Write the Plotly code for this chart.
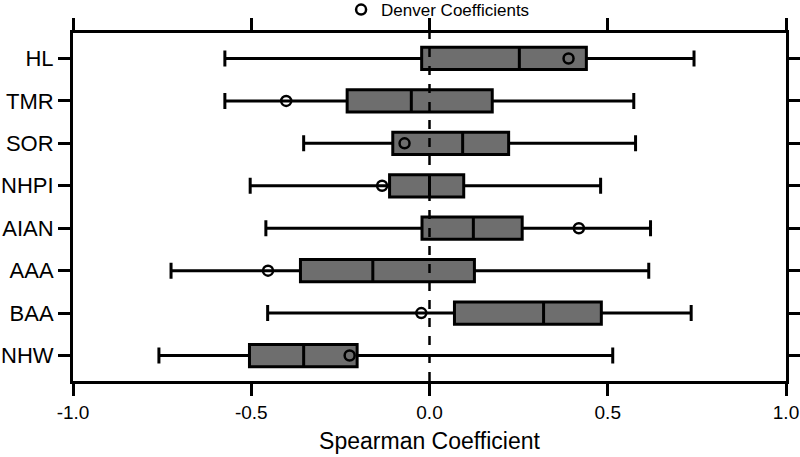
import plotly.graph_objects as go

categories = ["HL", "TMR", "SOR", "NHPI", "AIAN", "AAA", "BAA", "NHW"]
lower_whisker = [-0.574, -0.574, -0.353, -0.503, -0.459, -0.725, -0.454, -0.759]
q1_values = [-0.022, -0.231, -0.103, -0.112, -0.021, -0.362, 0.070, -0.505]
median_values = [0.252, -0.051, 0.093, 0.000, 0.123, -0.159, 0.320, -0.353]
q3_values = [0.440, 0.176, 0.222, 0.096, 0.260, 0.126, 0.482, -0.203]
upper_whisker = [0.742, 0.573, 0.578, 0.480, 0.620, 0.615, 0.734, 0.514]
denver_values = [0.390, -0.402, -0.070, -0.133, 0.419, -0.453, -0.023, -0.224]

x_ticks = [-1.0, -0.5, 0.0, 0.5, 1.0]
x_tick_labels = ["-1.0", "-0.5", "0.0", "0.5", "1.0"]

FONT = "Arial, Liberation Sans, Helvetica, sans-serif"

fig = go.Figure()

fig.add_trace(go.Box(
    y=categories,
    q1=q1_values,
    median=median_values,
    q3=q3_values,
    lowerfence=lower_whisker,
    upperfence=upper_whisker,
    orientation="h",
    boxpoints=False,
    fillcolor="#6e6e6e",
    line=dict(color="black", width=3),
    whiskerwidth=0.72,
    showlegend=False,
    hoverinfo="skip",
))

fig.add_trace(go.Scatter(
    x=denver_values,
    y=categories,
    mode="markers",
    name="Denver Coefficients",
    marker=dict(symbol="circle-open", size=10, color="black", line=dict(width=2.5, color="black")),
))

fig.add_shape(type="line", xref="x", yref="paper", x0=0, x1=0, y0=0, y1=1,
              line=dict(color="black", width=2.5, dash="dash"), layer="above")

fig.update_layout(
    width=800, height=457,
    margin=dict(l=73, r=14, t=33, b=76, autoexpand=False),
    plot_bgcolor="white", paper_bgcolor="white",
    font=dict(family=FONT, color="black"),
    boxgap=0.25,
    showlegend=True,
    legend=dict(orientation="h", x=0.376, xanchor="left", y=1.066, yanchor="middle",
                font=dict(size=17, family=FONT), bgcolor="rgba(0,0,0,0)",
                itemwidth=30),
    xaxis=dict(
        range=[-1.0, 1.0], tickvals=x_ticks, ticktext=x_tick_labels,
        showgrid=False, zeroline=False, automargin=False,
        showline=True, linecolor="black", linewidth=3, mirror="ticks",
        ticks="outside", ticklen=12, tickwidth=3, tickcolor="black",
        tickfont=dict(size=19, family=FONT),
        title=dict(text="Spearman Coefficient", font=dict(size=23, family=FONT), standoff=12),
    ),
    yaxis=dict(
        type="category", categoryorder="array", categoryarray=categories[::-1],
        range=[-0.6, 7.6], automargin=False,
        showgrid=False, zeroline=False,
        showline=True, linecolor="black", linewidth=3, mirror="ticks",
        ticks="outside", ticklen=12, tickwidth=3, tickcolor="black",
        tickfont=dict(size=22, family=FONT),
    ),
)

fig.write_html("out.html", config={"displayModeBar": False},
               post_script="document.body.style.margin='0px';")
